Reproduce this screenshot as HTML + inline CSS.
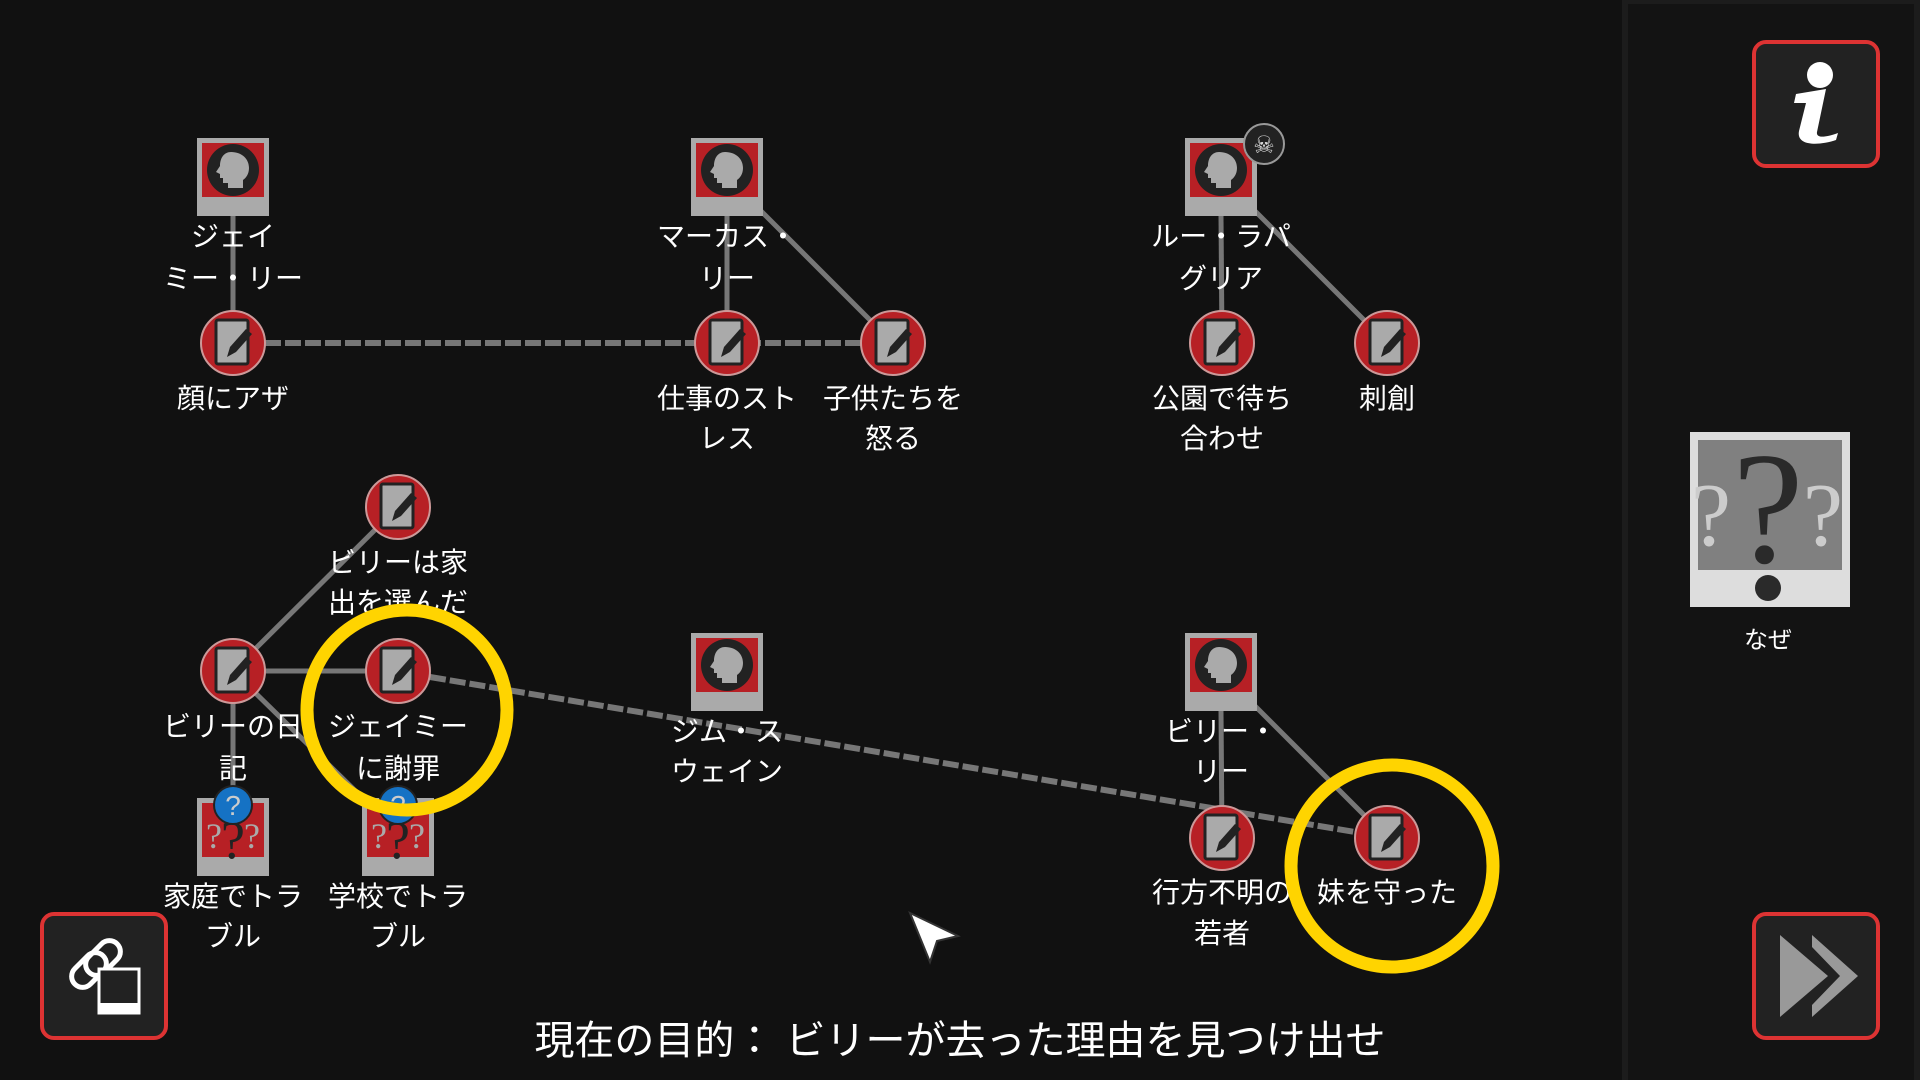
<!DOCTYPE html>
<html><head><meta charset="utf-8"><style>
html,body{margin:0;padding:0;background:#111;}
svg{display:block}
text{font-family:"Liberation Sans","Noto Sans CJK JP",sans-serif;fill:#fff;}
</style></head><body>
<svg width="1920" height="1080" viewBox="0 0 1920 1080" xmlns="http://www.w3.org/2000/svg">
<defs>
<g id="person">
<rect x="-36" y="0" width="72" height="78" fill="#aaa"/>
<rect x="-31" y="5" width="62" height="54" fill="#b72025"/>
<circle cx="0" cy="32" r="26" fill="#222"/>
<path d="M-2 14 c11 0 18 7 18 16 c0 6 -3 10 -6 12 l0 8 l-15 0 l0 -5 l-5 0 l0 -5 l-3 0 l0 -4 l-4 -2 l4 -6 c0 -8 4 -14 11 -14z" fill="#aaa"/>
</g>
<g id="note">
<circle r="32" fill="#b72025" stroke="#c99" stroke-width="2"/>
<rect x="-17" y="-23" width="32" height="44" rx="2" fill="#aaa" stroke="#222" stroke-width="3"/>
<path d="M-6 14 l3 -10 l16 -18 l6 5 l-16 18z" fill="#222"/>
</g>
<g id="qbox">
<rect x="-36" y="0" width="72" height="78" fill="#aaa"/>
<rect x="-31" y="5" width="62" height="54" fill="#b72025"/>
<text x="-19" y="50" font-size="36" text-anchor="middle" style="fill:#aaa;font-family:'Liberation Serif',serif">?</text>
<text x="19" y="50" font-size="36" text-anchor="middle" style="fill:#aaa;font-family:'Liberation Serif',serif">?</text>
<text x="0" y="60" font-size="54" text-anchor="middle" style="fill:#222;font-family:'Liberation Serif',serif">?</text>
</g>
</defs>
<rect width="1920" height="1080" fill="#111"/>
<rect x="1622" y="0" width="298" height="1080" fill="#1c1c1c"/>
<rect x="1628" y="4" width="286" height="1076" fill="#131313"/>

<g stroke="#777" stroke-width="5" fill="none">
<line x1="233" y1="216" x2="233" y2="343"/>
<line x1="727" y1="216" x2="727" y2="343"/>
<line x1="760" y1="210" x2="893" y2="343"/>
<line x1="1221" y1="216" x2="1222" y2="343"/>
<line x1="1254" y1="210" x2="1387" y2="343"/>
<line x1="233" y1="671" x2="398" y2="507"/>
<line x1="233" y1="671" x2="398" y2="671"/>
<line x1="233" y1="671" x2="233" y2="798"/>
<line x1="233" y1="671" x2="380" y2="815"/>
<line x1="1221" y1="711" x2="1222" y2="838"/>
<line x1="1254" y1="705" x2="1387" y2="838"/>
</g>
<g stroke="#777" stroke-width="6" fill="none" stroke-dasharray="16 4">
<line x1="265" y1="343" x2="861" y2="343"/>
<line x1="430" y1="677" x2="1355" y2="832"/>
</g>

<use href="#person" x="233" y="138"/>
<use href="#person" x="727" y="138"/>
<use href="#person" x="1221" y="138"/>
<use href="#person" x="727" y="633"/>
<use href="#person" x="1221" y="633"/>
<circle cx="1264" cy="144" r="20" fill="#222" stroke="#999" stroke-width="2"/>
<text x="1264" y="153" font-size="24" text-anchor="middle" style="fill:#ddd">☠</text>

<use href="#note" x="233" y="343"/>
<use href="#note" x="727" y="343"/>
<use href="#note" x="893" y="343"/>
<use href="#note" x="1222" y="343"/>
<use href="#note" x="1387" y="343"/>
<use href="#note" x="398" y="507"/>
<use href="#note" x="233" y="671"/>
<use href="#note" x="398" y="671"/>
<use href="#note" x="1222" y="838"/>
<use href="#note" x="1387" y="838"/>
<use href="#qbox" x="233" y="798"/>
<use href="#qbox" x="398" y="798"/>
<g>
<circle cx="233" cy="805" r="19" fill="#1572c4" stroke="#222" stroke-width="2"/>
<text x="233" y="815" font-size="28" text-anchor="middle" style="fill:#ccc">?</text>
<circle cx="398" cy="805" r="19" fill="#1572c4" stroke="#222" stroke-width="2"/>
<text x="398" y="815" font-size="28" text-anchor="middle" style="fill:#ccc">?</text>
</g>

<g font-size="28" text-anchor="middle">
<text x="233" y="246">ジェイ</text><text x="233" y="288">ミー・リー</text>
<text x="727" y="246">マーカス・</text><text x="727" y="288">リー</text>
<text x="1221" y="246">ルー・ラパ</text><text x="1221" y="288">グリア</text>
<text x="233" y="408">顔にアザ</text>
<text x="727" y="408">仕事のスト</text><text x="727" y="448">レス</text>
<text x="893" y="408">子供たちを</text><text x="893" y="448">怒る</text>
<text x="1222" y="408">公園で待ち</text><text x="1222" y="448">合わせ</text>
<text x="1387" y="408">刺創</text>
<text x="398" y="572">ビリーは家</text><text x="398" y="612">出を選んだ</text>
<text x="233" y="736">ビリーの日</text><text x="233" y="778">記</text>
<text x="398" y="736">ジェイミー</text><text x="398" y="778">に謝罪</text>
<text x="727" y="741">ジム・ス</text><text x="727" y="781">ウェイン</text>
<text x="1221" y="741">ビリー・</text><text x="1221" y="781">リー</text>
<text x="233" y="906">家庭でトラ</text><text x="233" y="946">ブル</text>
<text x="398" y="906">学校でトラ</text><text x="398" y="946">ブル</text>
<text x="1222" y="902">行方不明の</text><text x="1222" y="943">若者</text>
<text x="1387" y="902">妹を守った</text>
</g>

<circle cx="407" cy="710" r="100" fill="none" stroke="#ffd400" stroke-width="13"/>
<circle cx="1392" cy="866" r="101" fill="none" stroke="#ffd400" stroke-width="13"/>

<path d="M910 913 L958 936 L937 941 L930 962 Z" fill="#fff" stroke="#333" stroke-width="2"/>

<text x="960" y="1054" font-size="40" text-anchor="middle">現在の目的： ビリーが去った理由を見つけ出せ</text>

<rect x="42" y="914" width="124" height="124" rx="12" fill="#222" stroke="#d33" stroke-width="4"/>
<g fill="none" stroke="#fff" stroke-width="5">
<rect x="78" y="950" width="22" height="40" rx="11" transform="rotate(45 89 970)"/>
<rect x="92" y="938" width="22" height="40" rx="11" transform="rotate(45 103 958)"/>
</g>
<rect x="99" y="969" width="40" height="44" fill="#222" stroke="#fff" stroke-width="3"/>
<rect x="99" y="1003" width="40" height="10" fill="#fff"/>

<rect x="1754" y="914" width="124" height="124" rx="12" fill="#222" stroke="#d33" stroke-width="4"/>
<polygon points="1780,935 1828,976 1780,1017" fill="#999"/>
<polygon points="1812,935 1858,976 1812,1017 1812,1005 1840,976 1812,947" fill="#999"/>

<rect x="1754" y="42" width="124" height="124" rx="12" fill="#222" stroke="#d33" stroke-width="4"/>
<circle cx="1820" cy="75" r="13" fill="#fff"/>
<path d="M1796 94 L1826 89 L1817 132 C1816 138 1824 138 1838 133 L1836 140 C1818 146 1796 146 1799 131 L1806 103 L1794 103 Z" fill="#fff"/>

<rect x="1690" y="432" width="160" height="175" fill="#ddd"/>
<rect x="1698" y="440" width="144" height="130" fill="#808080"/>
<text x="1711" y="545" font-size="90" text-anchor="middle" style="fill:#ccc;font-family:'Liberation Serif',serif">?</text>
<text x="1823" y="545" font-size="90" text-anchor="middle" style="fill:#ccc;font-family:'Liberation Serif',serif">?</text>
<text x="1768" y="562" font-size="160" text-anchor="middle" style="fill:#2a2a2a;font-family:'Liberation Serif',serif">?</text>
<circle cx="1768" cy="588" r="13" fill="#2a2a2a"/>
<text x="1768" y="648" font-size="24" text-anchor="middle">なぜ</text>
</svg>
</body></html>
